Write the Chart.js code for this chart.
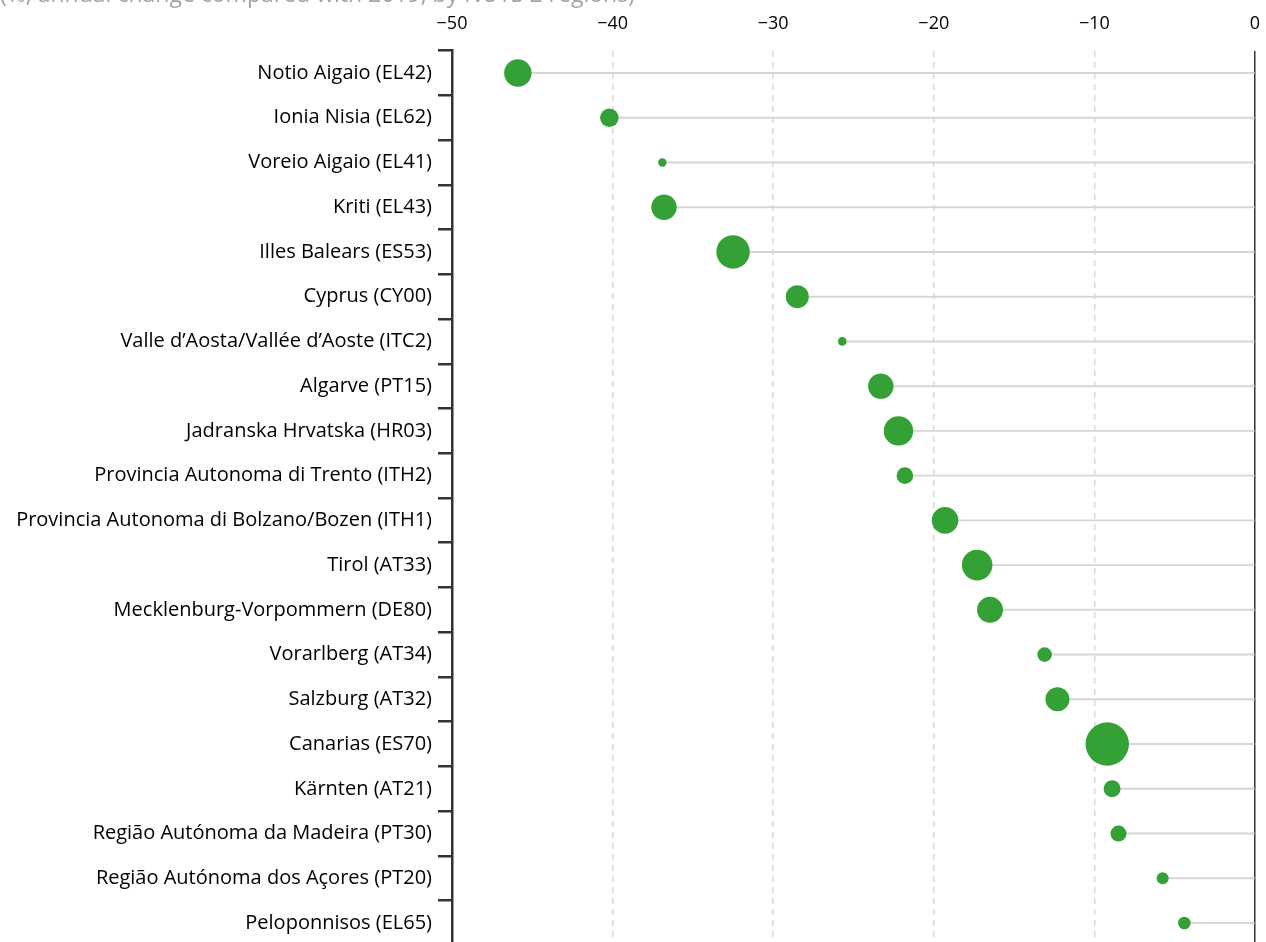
<!DOCTYPE html>
<html>
<head>
<meta charset="utf-8">
<script src="https://cdn.jsdelivr.net/npm/chart.js@4/dist/chart.umd.min.js"></script>
<style>
  html, body { margin: 0; padding: 0; background: #fff; overflow: hidden; }
  #wrap { position: absolute; left: 0; top: -20px; width: 1266px; height: 980px; }
</style>
</head>
<body>
<div id="wrap"><canvas id="chart"></canvas></div>
<script>
const regions = [
  'Notio Aigaio (EL42)',
  'Ionia Nisia (EL62)',
  'Voreio Aigaio (EL41)',
  'Kriti (EL43)',
  'Illes Balears (ES53)',
  'Cyprus (CY00)',
  'Valle d\u2019Aosta/Vallée d\u2019Aoste (ITC2)',
  'Algarve (PT15)',
  'Jadranska Hrvatska (HR03)',
  'Provincia Autonoma di Trento (ITH2)',
  'Provincia Autonoma di Bolzano/Bozen (ITH1)',
  'Tirol (AT33)',
  'Mecklenburg-Vorpommern (DE80)',
  'Vorarlberg (AT34)',
  'Salzburg (AT32)',
  'Canarias (ES70)',
  'Kärnten (AT21)',
  'Região Autónoma da Madeira (PT30)',
  'Região Autónoma dos Açores (PT20)',
  'Peloponnisos (EL65)'
]

// annual change (%)
const changes = [-45.9, -40.2, -36.9, -36.8, -32.5, -28.5, -25.7, -23.3, -22.2, -21.8,
  -19.3, -17.3, -16.5, -13.1, -12.3, -9.2, -8.9, -8.5, -5.75, -4.4]

// bubble radius (px), proportional to the region's size
const radii = [13.7, 9.3, 4.2, 12.7, 16.7, 11.5, 4.3, 12.7, 14.7, 8.3,
  13.3, 15.3, 13, 7.3, 12, 21.7, 8.5, 8, 6, 6.3]

const xTicks = [-50, -40, -30, -20, -10, 0]

const title = '(%, annual change compared with 2019, by NUTS 2 regions)'

const fontFamily = '"Open Sans", Lato, sans-serif'

const ctx = document.getElementById('chart').getContext('2d')
new Chart(ctx, {
  type: 'bubble',
  data: {
    labels: regions,
    datasets: [
      {
        type: 'bubble',
        data: changes.map((v, i) => ({ x: v, y: regions[i], r: radii[i] })),
        backgroundColor: '#33a136',
        borderWidth: 0,
        clip: false,
        order: 0
      },
      {
        type: 'bar',
        indexAxis: 'y',
        data: changes.map(v => [v, 0]),
        backgroundColor: '#d6d6d6',
        barThickness: 1.3,
        order: 1
      }
    ]
  },
  options: {
    responsive: true,
    maintainAspectRatio: false,
    animation: false,
    layout: { autoPadding: false, padding: { top: 0, left: 0, right: 11, bottom: 14.6 } },
    plugins: {
      legend: { display: false },
      tooltip: { enabled: false },
      title: {
        display: true,
        text: title,
        align: 'start',
        color: '#a3a3a3',
        font: { family: fontFamily, size: 23, weight: 'normal' },
        padding: { top: 2, bottom: 0 }
      }
    },
    scales: {
      x: {
        type: 'linear',
        position: 'top',
        min: -50,
        max: 0,
        afterBuildTicks: scale => { scale.ticks = xTicks.map(v => ({ value: v })) },
        afterFit: scale => {
          scale.height = 41
          scale.paddingLeft = 0
          scale.paddingRight = 0
        },
        ticks: {
          color: '#000',
          padding: 16,
          font: { family: fontFamily, size: 18 },
          callback: v => v < 0 ? '\u2212' + Math.abs(v) : String(v)
        },
        grid: {
          drawTicks: false,
          lineWidth: 1.5,
          color: c => {
            if (!c.tick) return '#d9d9d9'
            if (c.tick.value === 0) return '#333'
            if (c.tick.value === -50) return 'rgba(0,0,0,0)'
            return '#d9d9d9'
          }
        },
        border: {
          display: false,
          dash: c => (c.tick && c.tick.value === 0) ? [] : [6, 5]
        }
      },
      y: {
        type: 'category',
        position: 'left',
        offset: true,
        afterFit: scale => {
          scale.width = 452
          scale.paddingTop = 0
          scale.paddingBottom = 0
        },
        ticks: {
          color: '#000',
          padding: 6,
          font: { family: fontFamily, size: 20 }
        },
        grid: {
          offset: true,
          drawOnChartArea: false,
          drawTicks: true,
          tickLength: 14,
          color: '#333',
          lineWidth: 2.5
        },
        border: { display: true, color: '#333', width: 2.5 }
      }
    }
  }
})
</script>
</body>
</html>
